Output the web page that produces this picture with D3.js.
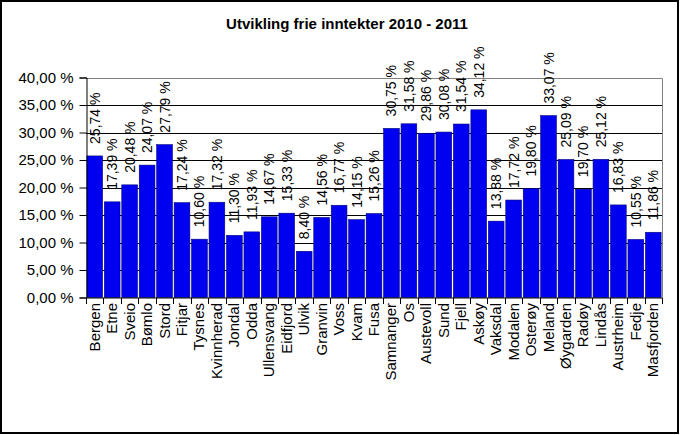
<!DOCTYPE html>
<html>
<head>
<meta charset="utf-8">
<script src="https://cdn.jsdelivr.net/npm/d3@7"></script>
<style>
  body { margin: 0; background: #fff; }
  svg { display: block; font-family: Arial, "Liberation Sans", sans-serif; }
</style>
</head>
<body>
<svg id="chart" width="681" height="435"></svg>
<script>
// kommuner og endring i frie inntekter (prosent)
var kommuner = ["Bergen", "Etne", "Sveio", "Bømlo", "Stord", "Fitjar", "Tysnes", "Kvinnherad",
    "Jondal", "Odda", "Ullensvang", "Eidfjord", "Ulvik", "Granvin", "Voss", "Kvam", "Fusa",
    "Samnanger", "Os", "Austevoll", "Sund", "Fjell", "Askøy", "Vaksdal", "Modalen", "Osterøy",
    "Meland", "Øygarden", "Radøy", "Lindås", "Austrheim", "Fedje", "Masfjorden"];
var endring = [25.74, 17.39, 20.48, 24.07, 27.79, 17.24, 10.60, 17.32,
    11.30, 11.93, 14.67, 15.33, 8.40, 14.56, 16.77, 14.15, 15.26,
    30.75, 31.58, 29.86, 30.08, 31.54, 34.12, 13.88, 17.72, 19.80,
    33.07, 25.09, 19.70, 25.12, 16.83, 10.55, 11.86];
var yTicks = [0, 5, 10, 15, 20, 25, 30, 35, 40];
var title = "Utvikling frie inntekter 2010 - 2011";

var W = 681, H = 435;
var pLeft = 86, pRight = 662, pTop = 77.5, pBottom = 297.5;

var svg = d3.select("#chart");

// ramme rundt hele diagrammet
svg.append("rect")
    .attr("x", 1).attr("y", 1)
    .attr("width", W - 4).attr("height", H - 3)
    .attr("fill", "none").attr("stroke", "#000").attr("stroke-width", 2);

var fmt = function(v) { return v.toFixed(2).replace(".", ",") + " %"; };

var x = d3.scaleBand()
    .domain(kommuner)
    .range([pLeft, pRight])
    .paddingInner(0.1)
    .paddingOuter(0.05);

var y = d3.scaleLinear()
    .domain([0, 40])
    .range([pBottom, pTop]);

// tittel
svg.append("text")
    .attr("x", 347).attr("y", 29)
    .attr("text-anchor", "middle")
    .attr("font-size", 15).attr("font-weight", "bold")
    .text(title);

// rutenett
svg.append("g").selectAll("line")
    .data(yTicks.filter(function(d) { return d > 0 && d < 40; }))
    .enter().append("line")
    .attr("x1", pLeft).attr("x2", pRight)
    .attr("y1", function(d) { return Math.round(y(d)) + 0.5; })
    .attr("y2", function(d) { return Math.round(y(d)) + 0.5; })
    .attr("stroke", "#000");

// plotområde kant (grå)
svg.append("path")
    .attr("d", "M" + pLeft + "," + (Math.round(pTop) + 0.5) + "H" + (pRight + 0.5) + "V" + pBottom)
    .attr("fill", "none").attr("stroke", "#808080");

// stolper
svg.append("g").selectAll("rect")
    .data(endring)
    .enter().append("rect")
    .attr("x", function(d, i) { return x(kommuner[i]); })
    .attr("y", function(d) { return y(d); })
    .attr("width", x.bandwidth())
    .attr("height", function(d) { return y(0) - y(d); })
    .attr("fill", "#0000f0")
    .attr("stroke", "#00007a")
    .attr("stroke-width", 0.6);

// dataetiketter
svg.append("g").selectAll("text")
    .data(endring)
    .enter().append("text")
    .attr("transform", function(d, i) {
        var cx = x(kommuner[i]) + x.bandwidth() / 2 + 5;
        return "translate(" + cx + "," + (y(d) - 12) + ") rotate(-90)";
    })
    .attr("font-size", 14)
    .attr("fill", "#000")
    .text(fmt);

// y-akse
var yAxis = d3.axisLeft(y)
    .tickValues(yTicks)
    .tickSize(7)
    .tickPadding(6)
    .tickFormat(fmt);

var gy = svg.append("g")
    .attr("transform", "translate(" + (pLeft + 0.5) + ",0)")
    .call(yAxis);
gy.select(".domain").attr("stroke", "#000");
gy.selectAll("text").attr("font-size", 15).attr("font-family", "Arial, 'Liberation Sans', sans-serif").attr("fill", "#000");
gy.selectAll(".tick line").attr("stroke", "#000");

// x-akse
var gx = svg.append("g").attr("transform", "translate(0," + (pBottom + 0.5) + ")");
gx.append("line")
    .attr("x1", pLeft).attr("x2", pRight + 0.5)
    .attr("stroke", "#000");
gx.selectAll("line.tk")
    .data(d3.range(kommuner.length + 1))
    .enter().append("line")
    .attr("class", "tk")
    .attr("x1", function(i) { return Math.round(pLeft + i * (pRight - pLeft) / kommuner.length) + 0.5; })
    .attr("x2", function(i) { return Math.round(pLeft + i * (pRight - pLeft) / kommuner.length) + 0.5; })
    .attr("y1", 0).attr("y2", 6)
    .attr("stroke", "#000");
gx.selectAll("text.lbl")
    .data(kommuner)
    .enter().append("text")
    .attr("class", "lbl")
    .attr("transform", function(d) {
        return "translate(" + (x(d) + x.bandwidth() / 2 + 5) + ",5) rotate(-90)";
    })
    .attr("text-anchor", "end")
    .attr("font-size", 15)
    .attr("fill", "#000")
    .text(function(d) { return d; });
</script>
</body>
</html>
